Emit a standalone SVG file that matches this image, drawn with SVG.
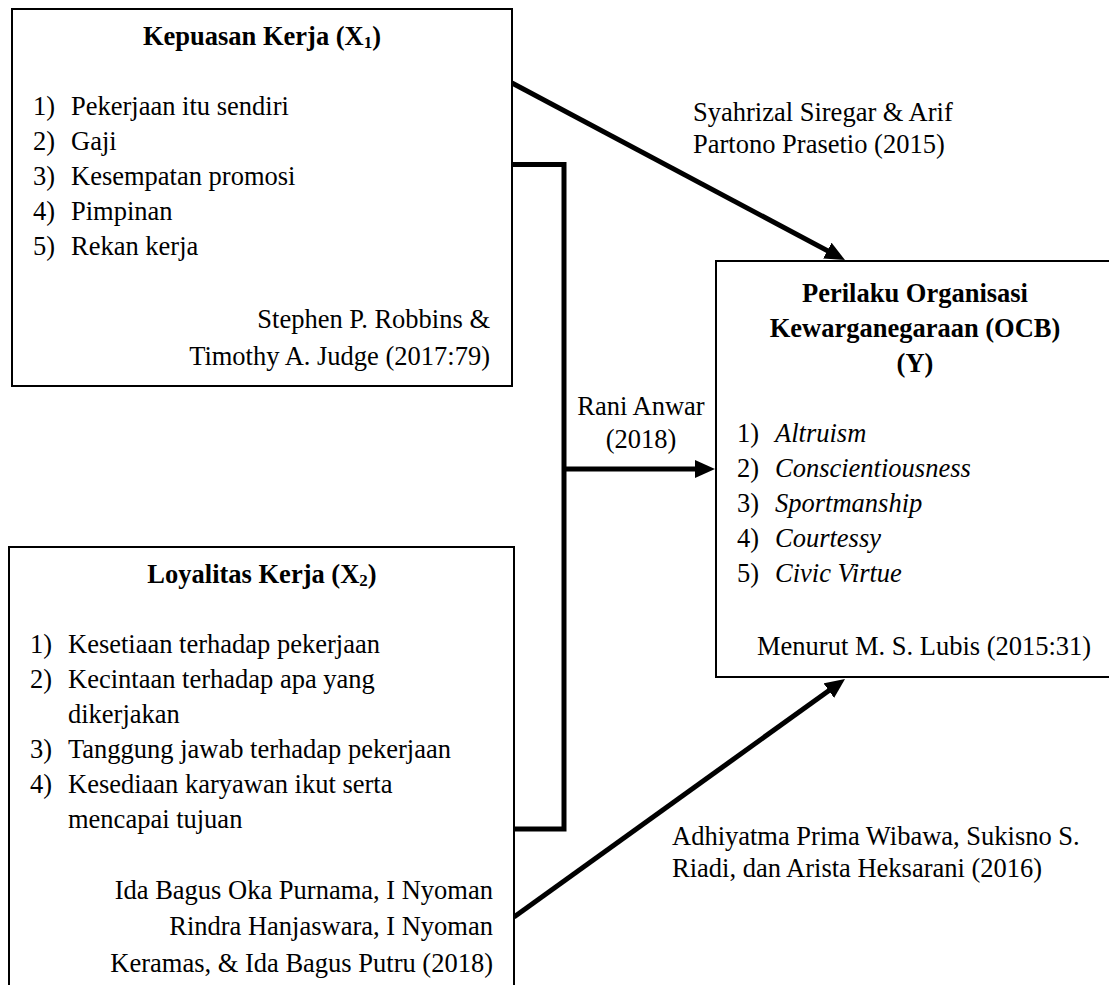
<svg xmlns="http://www.w3.org/2000/svg" width="1109" height="985" viewBox="0 0 1109 985">
<style>
text{font-family:"Liberation Serif","Times New Roman",serif;font-size:26.5px;fill:#000}
.b{font-weight:bold}
.i{font-style:italic}
.m{text-anchor:middle}
.e{text-anchor:end}
.box{fill:#fff;stroke:#000;stroke-width:2}
.c{fill:none;stroke:#000;stroke-width:5}
</style>
<defs>
<marker id="ah" markerUnits="userSpaceOnUse" markerWidth="20" markerHeight="18" refX="8" refY="9" orient="auto">
<path d="M0,0 L20,9 L0,18 z" fill="#000"/>
</marker>
</defs>
<rect width="1109" height="985" fill="#fff"/>
<g id="connectors">
<line class="c" x1="512" y1="83" x2="834.4" y2="254.4" marker-end="url(#ah)"/>
<path class="c" d="M512,164.5 H564 V829 H514"/>
<line class="c" x1="564" y1="469" x2="703" y2="469" marker-end="url(#ah)"/>
<line class="c" x1="514" y1="917" x2="835.3" y2="686" marker-end="url(#ah)"/>
<text x="693" y="121">Syahrizal Siregar &amp; Arif</text>
<text x="693" y="153">Partono Prasetio (2015)</text>
<text class="m" x="641" y="415">Rani Anwar</text>
<text class="m" x="641" y="448">(2018)</text>
<text x="672" y="845">Adhiyatma Prima Wibawa, Sukisno S.</text>
<text x="672" y="877">Riadi, dan Arista Heksarani (2016)</text>
</g>
<g id="x1">
<rect class="box" x="12" y="9" width="500" height="377"/>
<text class="b m" x="262" y="45">Kepuasan Kerja (X<tspan font-size="17" dy="3">1</tspan><tspan dy="-3">)</tspan></text>
<text x="33" y="115">1)</text><text x="71" y="115">Pekerjaan itu sendiri</text>
<text x="33" y="150">2)</text><text x="71" y="150">Gaji</text>
<text x="33" y="185">3)</text><text x="71" y="185">Kesempatan promosi</text>
<text x="33" y="220">4)</text><text x="71" y="220">Pimpinan</text>
<text x="33" y="255">5)</text><text x="71" y="255">Rekan kerja</text>
<text class="e" x="490" y="328">Stephen P. Robbins &amp;</text>
<text class="e" x="490" y="365">Timothy A. Judge (2017:79)</text>
</g>
<g id="x2">
<rect class="box" x="9" y="547" width="505" height="460"/>
<text class="b m" x="262" y="583">Loyalitas Kerja (X<tspan font-size="17" dy="3">2</tspan><tspan dy="-3">)</tspan></text>
<text x="30" y="653">1)</text><text x="68" y="653">Kesetiaan terhadap pekerjaan</text>
<text x="30" y="688">2)</text><text x="68" y="688">Kecintaan terhadap apa yang</text>
<text x="68" y="723">dikerjakan</text>
<text x="30" y="758">3)</text><text x="68" y="758">Tanggung jawab terhadap pekerjaan</text>
<text x="30" y="793">4)</text><text x="68" y="793">Kesediaan karyawan ikut serta</text>
<text x="68" y="828">mencapai tujuan</text>
<text class="e" x="493" y="899">Ida Bagus Oka Purnama, I Nyoman</text>
<text class="e" x="493" y="935">Rindra Hanjaswara, I Nyoman</text>
<text class="e" x="493" y="972">Keramas, &amp; Ida Bagus Putru (2018)</text>
</g>
<g id="y">
<rect class="box" x="716" y="261" width="410" height="416"/>
<text class="b m" x="915" y="302">Perilaku Organisasi</text>
<text class="b m" x="915" y="337">Kewarganegaraan (OCB)</text>
<text class="b m" x="915" y="372">(Y)</text>
<text x="737" y="442">1)</text><text class="i" x="775" y="442">Altruism</text>
<text x="737" y="477">2)</text><text class="i" x="775" y="477">Conscientiousness</text>
<text x="737" y="512">3)</text><text class="i" x="775" y="512">Sportmanship</text>
<text x="737" y="547">4)</text><text class="i" x="775" y="547">Courtessy</text>
<text x="737" y="582">5)</text><text class="i" x="775" y="582">Civic Virtue</text>
<text x="757" y="655">Menurut M. S. Lubis (2015:31)</text>
</g>
</svg>
